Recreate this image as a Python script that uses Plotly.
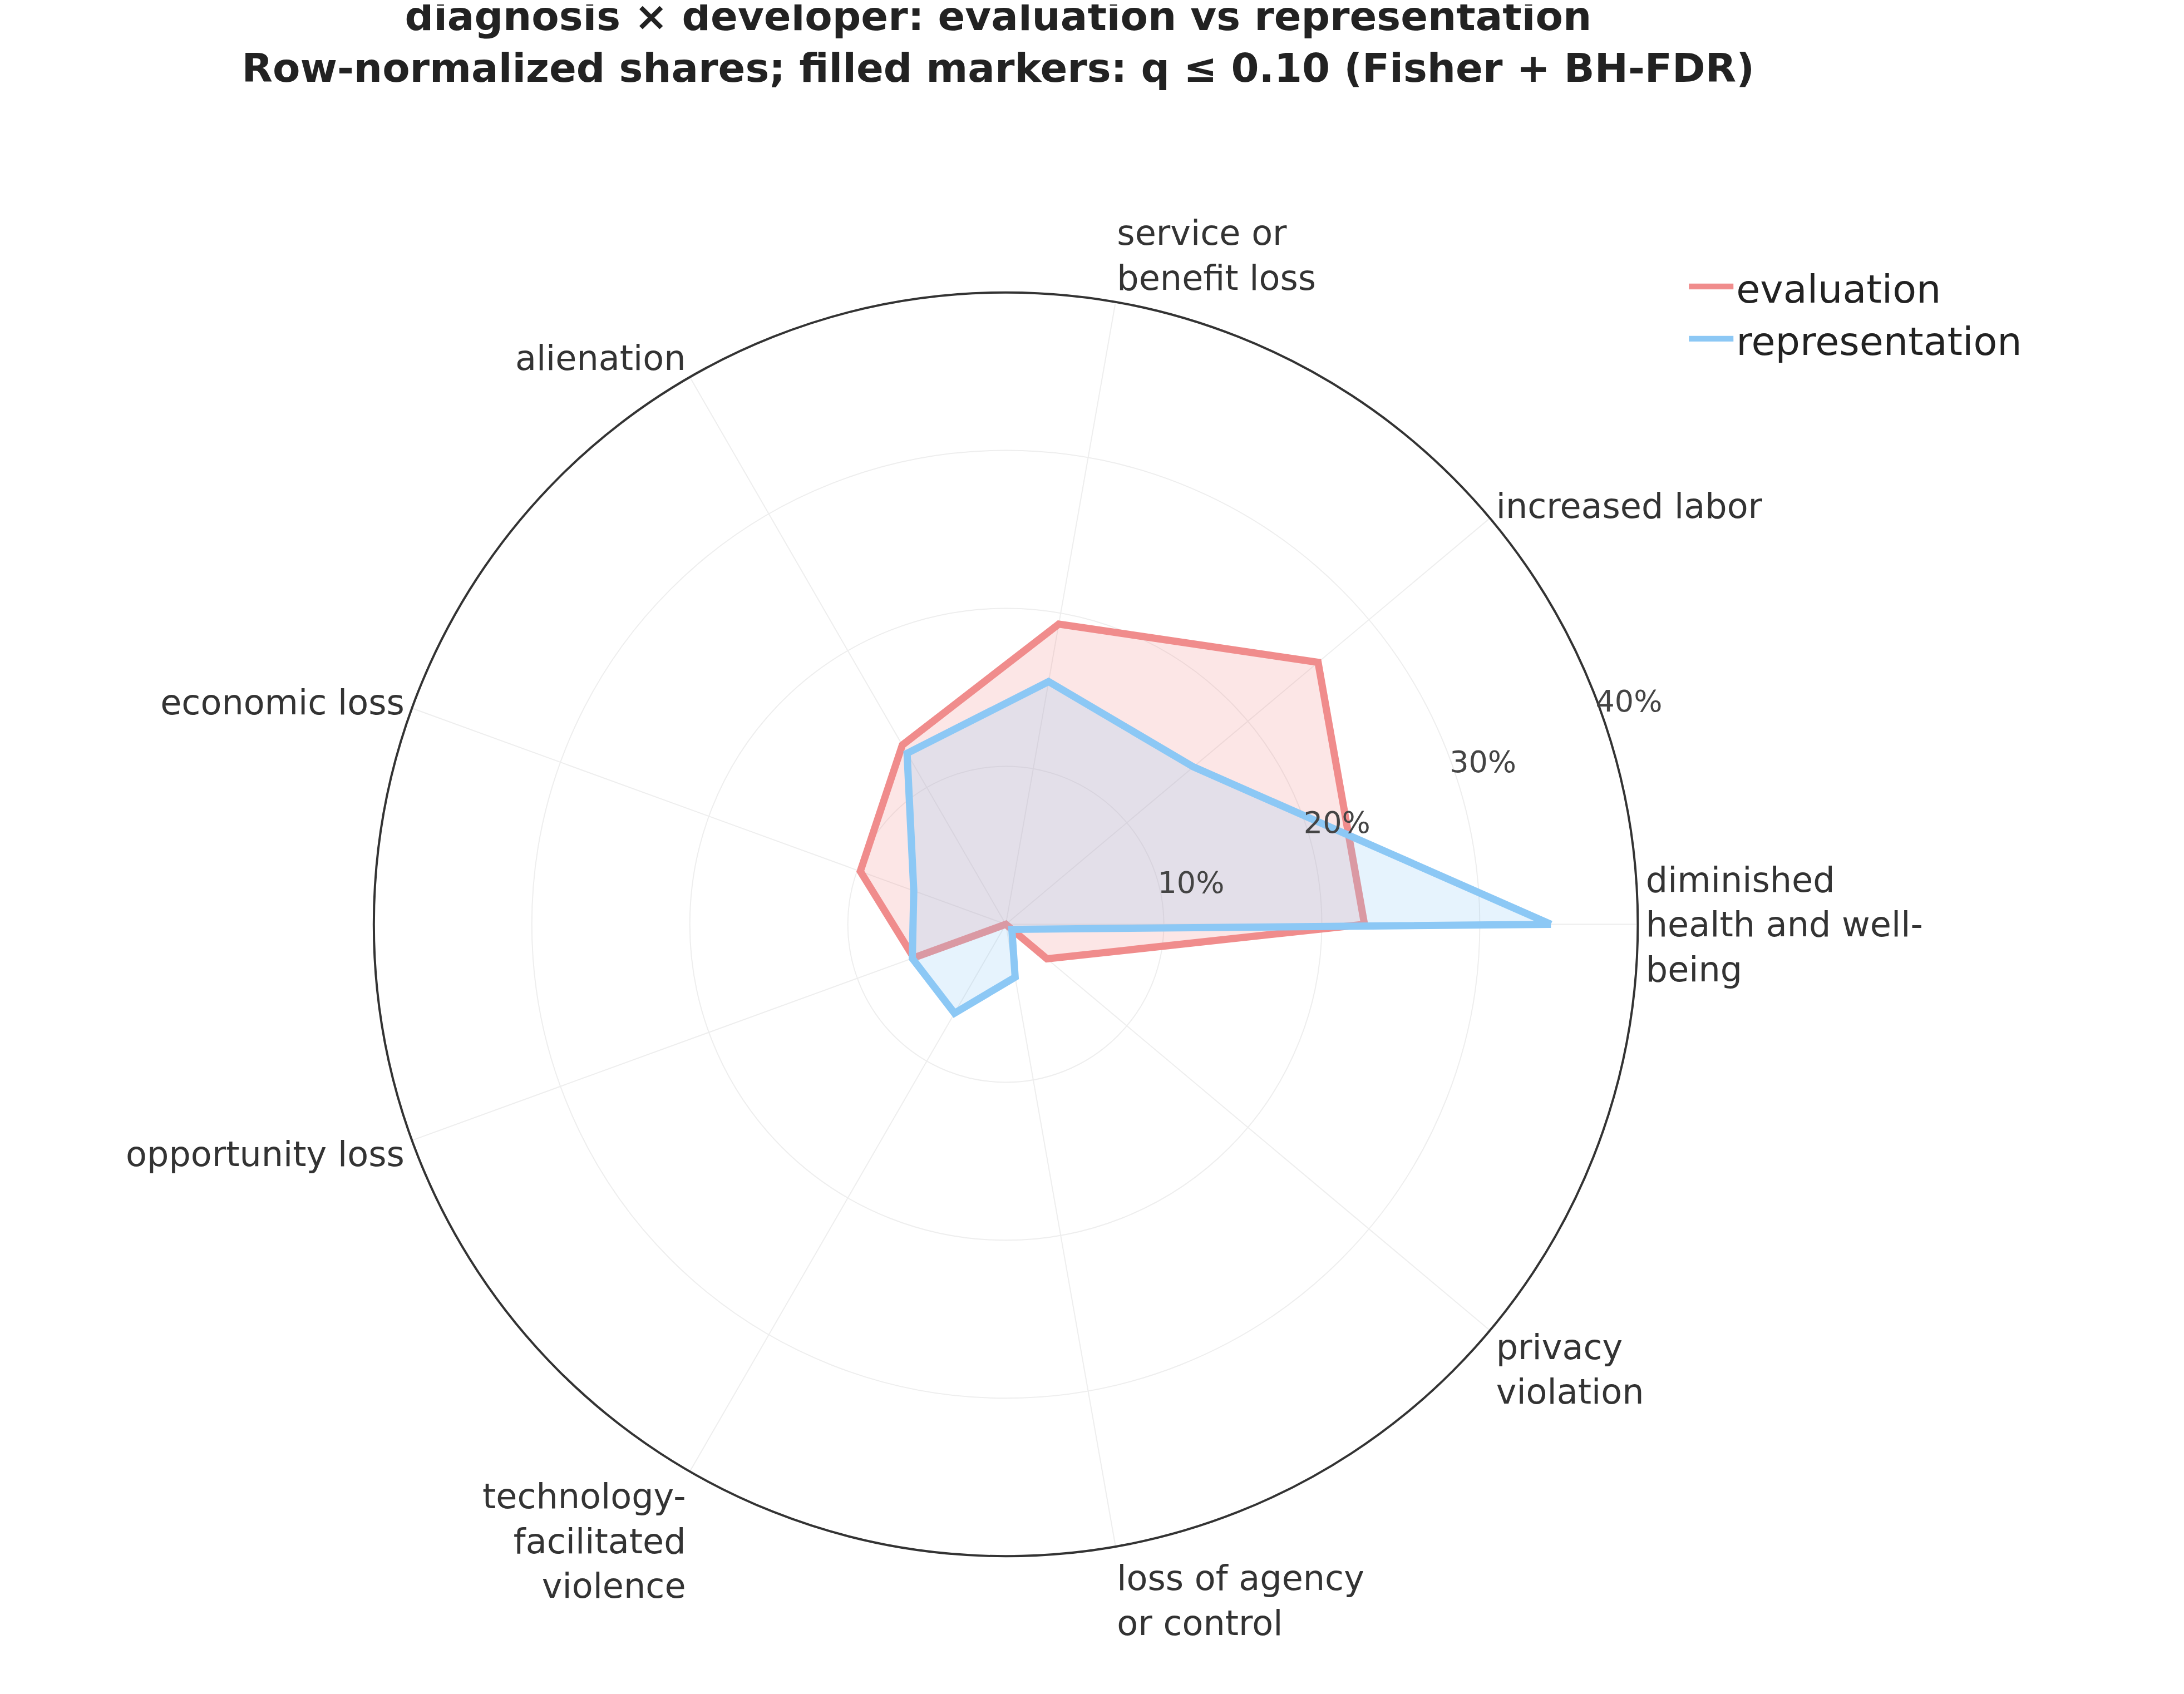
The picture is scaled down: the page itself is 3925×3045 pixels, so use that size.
import plotly.graph_objects as go

categories = ["diminished<br>health and well-<br>being", "increased labor", "service or<br>benefit loss",
              "alienation", "economic loss", "opportunity loss",
              "technology-<br>facilitated<br>violence", "loss of agency<br>or control", "privacy<br>violation"]
evaluation = [22.7, 25.8, 19.3, 13.1, 9.8, 6.2, 0.0, 0.0, 3.4]
representation = [34.5, 15.5, 15.6, 12.5, 6.2, 6.3, 6.5, 3.4, 0.5]

theta = categories + categories[:1]
fig = go.Figure()
fig.add_trace(go.Scatterpolar(
    r=evaluation + evaluation[:1], theta=theta, name="evaluation", mode="lines",
    line=dict(color="#F08C8C", width=13), fill="toself", fillcolor="rgba(240,140,140,0.22)"))
fig.add_trace(go.Scatterpolar(
    r=representation + representation[:1], theta=theta, name="representation", mode="lines",
    line=dict(color="#8CC8F5", width=13), fill="toself", fillcolor="rgba(140,200,245,0.22)"))

fig.update_layout(
    width=3925, height=3045, paper_bgcolor="white",
    font=dict(family="DejaVu Sans", color="#333333", size=62),
    title=dict(text="<b>diagnosis × developer: evaluation vs representation<br>Row-normalized shares; filled markers: q ≤ 0.10 (Fisher + BH-FDR)</b>",
               x=0.455, xanchor="center", y=0.985, yanchor="top", font=dict(size=72, color="#222222")),
    margin=dict(l=0, r=0, t=0, b=0),
    polar=dict(
        domain=dict(x=[0.167, 0.75], y=[0.084, 0.83]),
        bgcolor="white",
        angularaxis=dict(rotation=0, direction="counterclockwise", showline=True,
                         linecolor="#333333", linewidth=4, gridcolor="#EEEEEE", gridwidth=2,
                         ticks="", tickfont=dict(size=62, color="#333333")),
        radialaxis=dict(range=[0, 40], tickvals=[10, 20, 30, 40], ticktext=["10%", "20%", "30%", "40%"],
                        angle=22.5, tickangle=22.5, showline=False, ticks="", gridcolor="#EEEEEE", gridwidth=2,
                        tickfont=dict(size=54, color="#444444")),
    ),
    legend=dict(x=0.77, y=0.85, xanchor="left", yanchor="top", font=dict(size=70, color="#222222"),
                itemwidth=80, bgcolor="rgba(0,0,0,0)"),
)
fig.write_html("out.html")
